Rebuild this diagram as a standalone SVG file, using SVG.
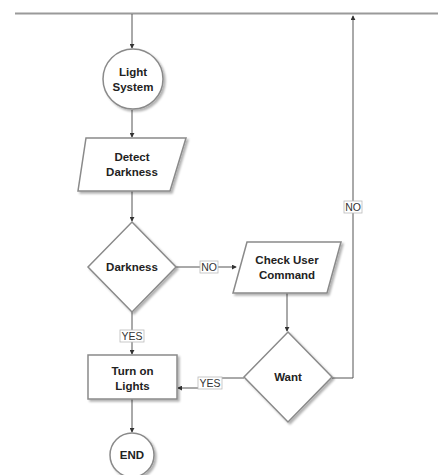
<svg xmlns="http://www.w3.org/2000/svg" width="438" height="475" viewBox="0 0 438 475">
<style>
.shape{fill:#fff;stroke:#8a8a8a;stroke-width:1.5;filter:url(#sh)}
.t{font-family:"Liberation Sans",Arial,sans-serif;font-size:11.5px;font-weight:bold;fill:#222;text-anchor:middle}
.c{fill:none;stroke:#555;stroke-width:1}
.lb{fill:#fff;stroke:#bbb;stroke-width:0.8}
.lt{font-family:"Liberation Sans",Arial,sans-serif;font-size:10.5px;fill:#333;text-anchor:middle}
</style>
<defs>
<filter id="sh" x="-20%" y="-20%" width="150%" height="150%">
<feDropShadow dx="2" dy="2" stdDeviation="1" flood-color="#000" flood-opacity="0.3"/>
</filter>
<marker id="a" viewBox="0 0 6 6" refX="5" refY="3" markerWidth="5" markerHeight="5" orient="auto">
<path d="M0,0 L6,3 L0,6 z" fill="#333"/>
</marker>
</defs>
<rect width="438" height="475" fill="#fff"/>
<g id="connectors">
<line x1="15" y1="13.5" x2="438" y2="13.5" stroke="#9a9a9a" stroke-width="2"/>
<line class="c" x1="132" y1="14" x2="132" y2="48" marker-end="url(#a)"/>
<line class="c" x1="132" y1="110" x2="132" y2="137" marker-end="url(#a)"/>
<line class="c" x1="132" y1="191" x2="132" y2="221" marker-end="url(#a)"/>
<line class="c" x1="176" y1="267" x2="236" y2="267" marker-end="url(#a)"/>
<line class="c" x1="132" y1="312" x2="132" y2="354" marker-end="url(#a)"/>
<line class="c" x1="287" y1="293" x2="287" y2="331" marker-end="url(#a)"/>
<polyline class="c" points="244,378 220,378 220,388 178,388" marker-end="url(#a)"/>
<polyline class="c" points="332,378 353,378 353,16" marker-end="url(#a)"/>
<line class="c" x1="132" y1="399" x2="132" y2="432" marker-end="url(#a)"/>
<rect class="lb" x="200" y="261" width="18" height="12"/>
<text class="lt" x="209" y="271">NO</text>
<rect class="lb" x="120" y="330" width="24" height="12"/>
<text class="lt" x="132" y="340">YES</text>
<rect class="lb" x="198" y="377" width="24" height="12"/>
<text class="lt" x="210" y="387">YES</text>
<rect class="lb" x="344" y="201" width="18" height="12"/>
<text class="lt" x="353" y="211">NO</text>
</g>
<g id="light-system">
<circle class="shape" cx="133" cy="79" r="30"/>
<text class="t" x="133" y="76">Light</text>
<text class="t" x="133" y="91">System</text>
</g>
<g id="detect-darkness">
<polygon class="shape" points="86,138 186,138 170,191 78,191"/>
<text class="t" x="132" y="161">Detect</text>
<text class="t" x="132" y="176">Darkness</text>
</g>
<g id="darkness">
<polygon class="shape" points="132,222 176,267 132,312 88,267"/>
<text class="t" x="132" y="271">Darkness</text>
</g>
<g id="check-user-command">
<polygon class="shape" points="247,242 341,242 327,293 233,293"/>
<text class="t" x="287" y="264">Check User</text>
<text class="t" x="287" y="279">Command</text>
</g>
<g id="want">
<polygon class="shape" points="288,332 332,377 288,422 244,377"/>
<text class="t" x="288" y="381">Want</text>
</g>
<g id="turn-on-lights">
<rect class="shape" x="88" y="355" width="89" height="44"/>
<text class="t" x="132.5" y="375">Turn on</text>
<text class="t" x="132.5" y="390">Lights</text>
</g>
<g id="end">
<circle class="shape" cx="132" cy="455" r="22"/>
<text class="t" x="132" y="459">END</text>
</g>
</svg>
